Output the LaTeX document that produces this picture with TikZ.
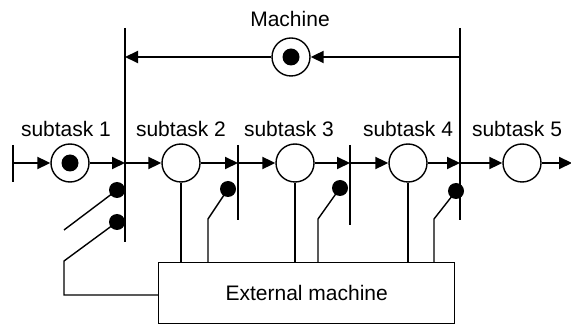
\documentclass[tikz,border=0pt]{standalone}
\usepackage{fontspec}
\setmainfont{Liberation Sans}
\usetikzlibrary{arrows.meta}

\begin{document}
\begin{tikzpicture}[x=0.5pt, y=-0.5pt, line width=0.7pt,
    every node/.style={font=\fontsize{10.5}{12}\selectfont},
    flow/.style={line width=1pt, -{Triangle[length=6.5pt,width=6pt]}},
    task/.style={circle, draw, line width=0.7pt, minimum size=19pt, inner sep=0pt},
    token/.style={circle, fill, minimum size=8.5pt, inner sep=0pt},
    latch/.style={circle, fill, minimum size=8pt, inner sep=0pt}]
        \useasboundingbox (0,0) rectangle (571,325);

        % Machine
        \node (mlabel) at (290,19) {Machine};
        \coordinate (mL) at (125,28);
        \coordinate (mLb) at (125,242);
        \coordinate (mR) at (460,28);
        \coordinate (mRb) at (460,220);
        \draw (mL) -- (mLb);
        \draw (mR) -- (mRb);
        \node[task] (m) at (291,57) {};
        \node[token] (mtok) at (m) {};
        \draw[flow] (mR |- m) -- (m);
        \draw[flow] (m) -- (mL |- m);

        % Barriers between subtasks
        \coordinate (s0) at (13,145);
        \coordinate (s0b) at (13,182);
        \coordinate (b2) at (238,145);
        \coordinate (b2b) at (238,220);
        \coordinate (b3) at (350,145);
        \coordinate (b3b) at (350,225);
        \draw (s0) -- (s0b);
        \draw (b2) -- (b2b);
        \draw (b3) -- (b3b);

        % Subtasks
        \node[task] (t1) at (70,163) {};
        \node[token] (t1tok) at (t1) {};
        \node[task] (t2) at (181,163) {};
        \node[task] (t3) at (295,163) {};
        \node[task] (t4) at (408,163) {};
        \node[task] (t5) at (522,163) {};
        \coordinate (out) at (572,163);

        \node (l1) at (66,129) {subtask 1};
        \node (l2) at (181,129) {subtask 2};
        \node (l3) at (289,129) {subtask 3};
        \node (l4) at (408,129) {subtask 4};
        \node (l5) at (517,129) {subtask 5};

        % Flow
        \draw[flow] (s0 |- t1) -- (t1);
        \draw[flow] (t1) -- (mL |- t1);
        \draw[flow] (mL |- t1) -- (t2);
        \draw[flow] (t2) -- (b2 |- t2);
        \draw[flow] (b2 |- t2) -- (t3);
        \draw[flow] (t3) -- (b3 |- t3);
        \draw[flow] (b3 |- t3) -- (t4);
        \draw[flow] (t4) -- (mR |- t4);
        \draw[flow] (mR |- t4) -- (t5);
        \draw[flow] (t5) -- (out);

        % External machine
        \node[draw, anchor=north west, minimum width=148pt, minimum height=30.5pt,
            inner sep=0pt] (ext) at (158,262) {External machine};

        % Latches
        \node[latch] (d1a) at (117,190) {};
        \node[latch] (d1b) at (117,222) {};
        \node[latch] (d2) at (228,189) {};
        \node[latch] (d3) at (340,188) {};
        \node[latch] (d4) at (456,191) {};
        \coordinate (e1a) at (64,230);
        \coordinate (e1b) at (64,261);
        \coordinate (e2) at (208,219);
        \coordinate (e3) at (318,219);
        \coordinate (e4) at (434,219);
        \draw (d1a.center) -- (e1a);
        \draw (d1b.center) -- (e1b) -- (e1b |- 0,295) -- (ext.west |- 0,295);
        \draw (d2.center) -- (e2) -- (e2 |- ext.north);
        \draw (d3.center) -- (e3) -- (e3 |- ext.north);
        \draw (d4.center) -- (e4) -- (e4 |- ext.north);

        % Links to the external machine
        \draw (t2.south) -- (t2 |- ext.north);
        \draw (t3.south) -- (t3 |- ext.north);
        \draw (t4.south) -- (t4 |- ext.north);
    \end{tikzpicture}
\end{document}
